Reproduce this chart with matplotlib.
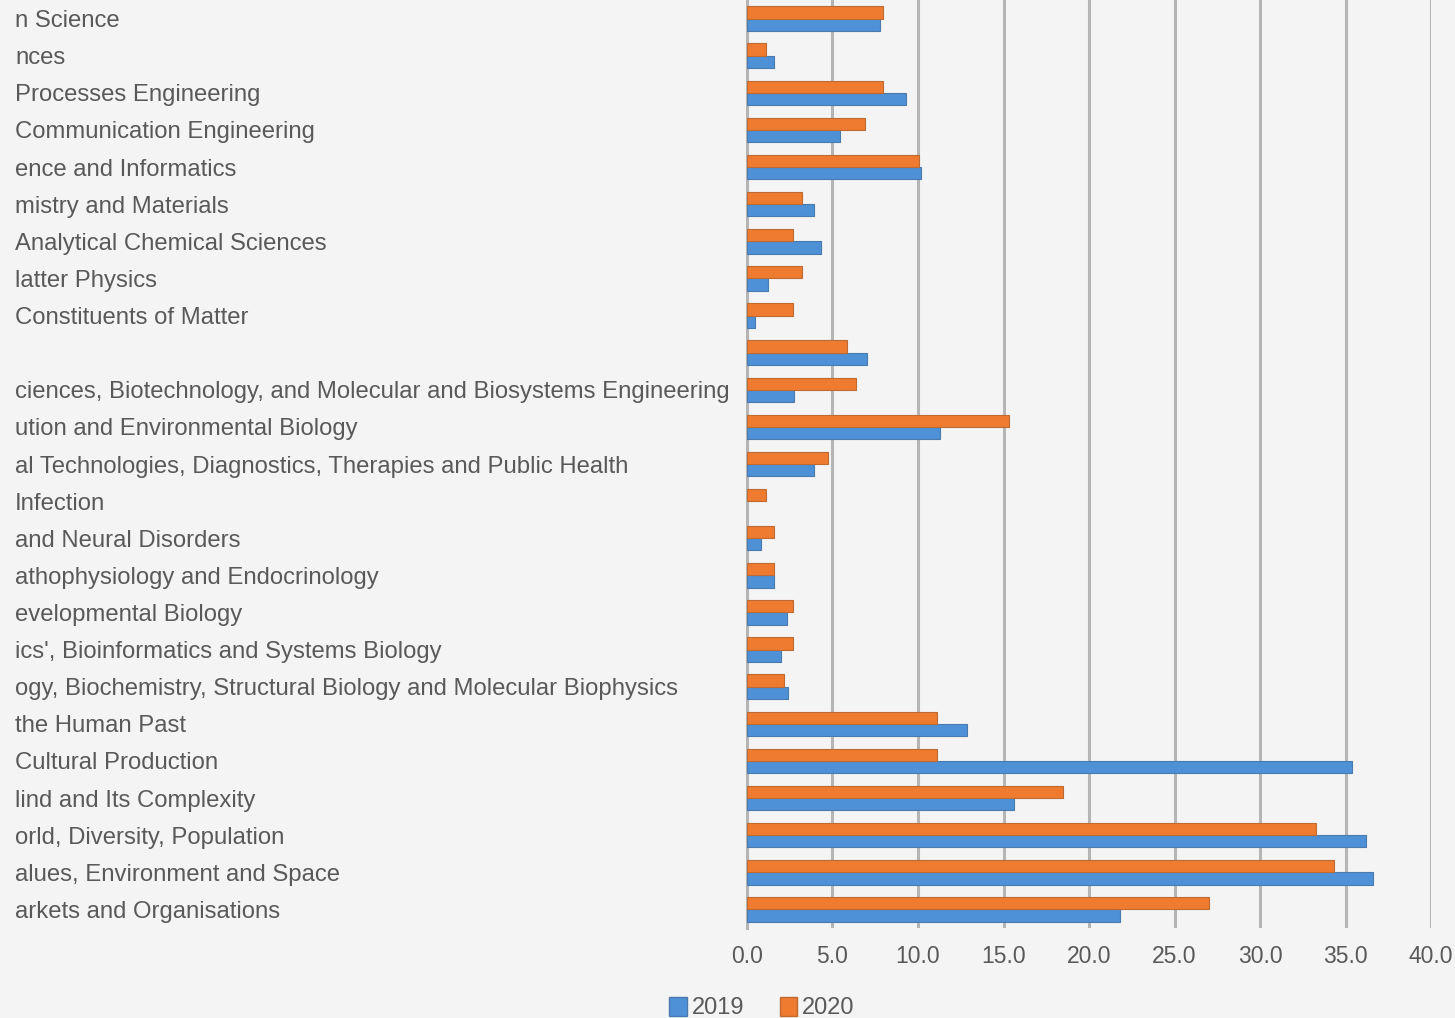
import matplotlib
matplotlib.use("Agg")
import matplotlib.pyplot as plt
from matplotlib.patches import Patch
import numpy as np

plt.rcParams['font.family'] = ['Liberation Sans', 'DejaVu Sans']

categories = [
    "n Science",
    "nces",
    "Processes Engineering",
    "Communication Engineering",
    "ence and Informatics",
    "mistry and Materials",
    "Analytical Chemical Sciences",
    "latter Physics",
    "Constituents of Matter",
    "",
    "ciences, Biotechnology, and Molecular and Biosystems Engineering",
    "ution and Environmental Biology",
    "al Technologies, Diagnostics, Therapies and Public Health",
    "Infection",
    "and Neural Disorders",
    "athophysiology and Endocrinology",
    "evelopmental Biology",
    "ics', Bioinformatics and Systems Biology",
    "ogy, Biochemistry, Structural Biology and Molecular Biophysics",
    "the Human Past",
    "Cultural Production",
    "lind and Its Complexity",
    "orld, Diversity, Population",
    "alues, Environment and Space",
    "arkets and Organisations",
]

values_2019 = [7.8, 1.6, 9.3, 5.45, 10.2, 3.9, 4.3, 1.2, 0.45, 7.0,
               2.75, 11.3, 3.9, 0.0, 0.8, 1.6, 2.35, 2.0, 2.4, 12.85,
               35.4, 15.6, 36.2, 36.6, 21.8]
values_2020 = [7.95, 1.1, 7.95, 6.9, 10.05, 3.2, 2.7, 3.2, 2.7, 5.85,
               6.4, 15.3, 4.75, 1.1, 1.6, 1.6, 2.7, 2.7, 2.15, 11.1,
               11.1, 18.5, 33.3, 34.3, 27.0]
series_labels = ["2019", "2020"]
x_ticks = [0, 5, 10, 15, 20, 25, 30, 35, 40]

BLUE = "#4E91D6"
ORANGE = "#EE7B30"
BG = "#F4F4F4"
TXT = "#595959"
GRID = "#B5B5B5"
FS = 17.2

fig = plt.figure(figsize=(14.55, 10.18), dpi=100, facecolor=BG)
ax = fig.add_axes([747/1455, 1-928/1018, (1431-747)/1455, 928/1018])
ax.set_facecolor(BG)

y = np.arange(len(categories))
h = 0.33
lw19 = [0.8 if v > 0 else 0 for v in values_2019]
lw20 = [0.8 if v > 0 else 0 for v in values_2020]
ax.barh(y + h/2, values_2019, height=h, color=BLUE, edgecolor="#4A7AAE", linewidth=lw19, zorder=3)
ax.barh(y - h/2, values_2020, height=h, color=ORANGE, edgecolor="#BE6A30", linewidth=lw20, zorder=3)

ax.set_ylim(len(categories) - 0.5, -0.5)
ax.set_xlim(0, 40)
ax.set_yticks(y)
ax.set_yticklabels(categories, fontsize=FS, color=TXT, ha='left')
ax.set_xticks(x_ticks)
ax.set_xticklabels([f"{v:.1f}" for v in x_ticks], fontsize=16.5, color=TXT)
ax.tick_params(axis='y', length=0, pad=(747 - 15) * 72 / 100)
ax.tick_params(axis='x', length=0, pad=12)

for s in ['top', 'right', 'bottom']:
    ax.spines[s].set_visible(False)
ax.spines['left'].set_color(GRID)
ax.spines['left'].set_linewidth(2.2)
ax.xaxis.grid(True, color=GRID, linewidth=2.2, zorder=0)
ax.set_axisbelow(True)

handles = [Patch(facecolor=BLUE, edgecolor="#4A7AAE"), Patch(facecolor=ORANGE, edgecolor="#BE6A30")]
fig.legend(handles, series_labels, loc='center', bbox_to_anchor=(762/1455, 1-1008/1018),
           ncol=2, frameon=False, fontsize=17, handlelength=0.75, handleheight=0.85,
           handletextpad=0.2, columnspacing=1.5, labelcolor=TXT)

fig.savefig("out.png", dpi=100, facecolor=BG)
